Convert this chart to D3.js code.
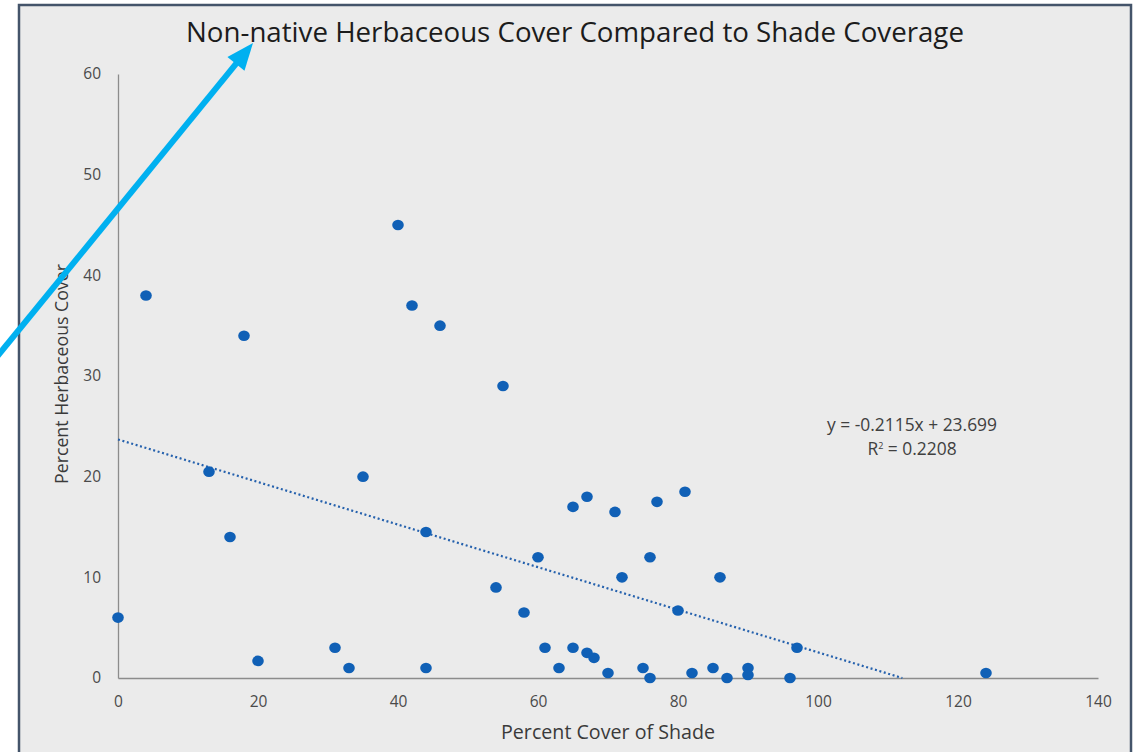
<!DOCTYPE html>
<html>
<head>
<meta charset="utf-8">
<script src="https://cdn.jsdelivr.net/npm/d3@7"></script>
<style>
  html, body { margin: 0; padding: 0; background: #ffffff; }
  svg { display: block; }
  text { font-family: "Open Sans", "Noto Sans", sans-serif; }
</style>
</head>
<body>
<svg id="chart" width="1135" height="752"></svg>
<script>
// Shade cover (%) at each plot
const shadeCover = [
  0, 4, 13, 16, 18, 20, 31, 33, 35, 40, 42, 44, 44, 46, 54, 55, 58, 60, 61, 63,
  65, 65, 67, 67, 68, 70, 71, 72, 75, 76, 76, 77, 80, 81, 82, 85, 86, 87, 90, 90,
  96, 97, 124
];
// Non-native herbaceous cover (%) at the same plots
const herbCover = [
  6, 38, 20.5, 14, 34, 1.7, 3, 1, 20, 45, 37, 14.5, 1, 35, 9, 29, 6.5, 12, 3, 1,
  17, 3, 18, 2.5, 2, 0.5, 16.5, 10, 1, 12, 0, 17.5, 6.7, 18.5, 0.5, 1, 10, 0, 1, 0.3,
  0, 3, 0.5
];
const xTicks = [0, 20, 40, 60, 80, 100, 120, 140];
const yTicks = [0, 10, 20, 30, 40, 50, 60];
// Linear trend fit
const trendSlope = -0.2115;
const trendIntercept = 23.699;
const rSquared = 0.2208;

const svg = d3.select("#chart");

// scale a text element's font so it spans the given width
function fitWidth(sel, baseSize, width) {
  const w = sel.node().getComputedTextLength();
  sel.style("font-size", (baseSize * width / w).toFixed(2) + "px");
}

// chart panel with frame
svg.append("rect")
  .attr("x", 19).attr("y", 5).attr("width", 1112).attr("height", 760)
  .attr("fill", "#ebebeb")
  .attr("stroke", "#44546a").attr("stroke-width", 2.5);

const x = d3.scaleLinear().domain([0, 140]).range([118, 1098]);
const y = d3.scaleLinear().domain([0, 60]).range([678, 74]);

// axes
const xAxis = svg.append("g")
  .attr("transform", `translate(0,${y(0)})`)
  .call(d3.axisBottom(x).tickValues(xTicks).tickSize(0).tickPadding(18));
const yAxis = svg.append("g")
  .attr("transform", `translate(${x(0)},0)`)
  .call(d3.axisLeft(y).tickValues(yTicks).tickSize(0).tickPadding(17));

[xAxis, yAxis].forEach(g => {
  g.select(".domain").attr("stroke", "#8c8c8c").attr("stroke-width", 1.3);
  g.selectAll("text")
    .attr("fill", "#4a4a4a")
    .style("font-family", "\"Open Sans\", sans-serif")
    .style("font-size", "15.5px");
});

// trend line
const xEnd = -trendIntercept / trendSlope;
svg.append("line")
  .attr("x1", x(0)).attr("y1", y(trendIntercept))
  .attr("x2", x(xEnd)).attr("y2", y(0))
  .attr("stroke", "#2561ad")
  .attr("stroke-width", 2.2)
  .attr("stroke-dasharray", "2 2.6");

// points
svg.append("g").selectAll("ellipse")
  .data(shadeCover.map((s, i) => [s, herbCover[i]]))
  .join("ellipse")
  .attr("cx", d => x(d[0]))
  .attr("cy", d => y(d[1]))
  .attr("rx", 5.8).attr("ry", 5.3)
  .attr("fill", "#1060b6");

// trend equation
const eq1 = svg.append("text")
  .attr("x", 912).attr("y", 431)
  .attr("text-anchor", "middle")
  .attr("fill", "#404040")
  .style("font-size", "15px")
  .text(`y = ${trendSlope}x + ${trendIntercept}`);
fitWidth(eq1, 15, 170);
const eqSize = eq1.style("font-size");

const eq2 = svg.append("text")
  .attr("x", 912).attr("y", 455)
  .attr("text-anchor", "middle")
  .attr("fill", "#404040")
  .style("font-size", eqSize);
eq2.append("tspan").text("R");
eq2.append("tspan").attr("dy", -6).style("font-size", "9px").text("2");
eq2.append("tspan").attr("dy", 6).text(` = ${rSquared}`);

// title
const title = svg.append("text")
  .attr("x", 575).attr("y", 42)
  .attr("text-anchor", "middle")
  .attr("fill", "#1c1c1c")
  .style("font-size", "24px")
  .text("Non-native Herbaceous Cover Compared to Shade Coverage");
fitWidth(title, 24, 778);

// axis titles
const xTitle = svg.append("text")
  .attr("x", 608).attr("y", 739)
  .attr("text-anchor", "middle")
  .attr("fill", "#3a3a3a")
  .style("font-size", "16px")
  .text("Percent Cover of Shade");
fitWidth(xTitle, 16, 214);

const yTitle = svg.append("text")
  .attr("transform", "translate(68,374) rotate(-90)")
  .attr("text-anchor", "middle")
  .attr("fill", "#3a3a3a")
  .style("font-size", "16px")
  .text("Percent Herbaceous Cover");
fitWidth(yTitle, 16, 220);

// callout arrow pointing at the title
const tail = [-4, 358], tip = [253, 43];
const ang = Math.atan2(tip[1] - tail[1], tip[0] - tail[0]);
const headLen = 27, headHalf = 11;
const base = [tip[0] - headLen * Math.cos(ang), tip[1] - headLen * Math.sin(ang)];
const nx = -Math.sin(ang), ny = Math.cos(ang);

svg.append("line")
  .attr("x1", tail[0]).attr("y1", tail[1])
  .attr("x2", base[0] + 2 * Math.cos(ang)).attr("y2", base[1] + 2 * Math.sin(ang))
  .attr("stroke", "#00b0f0")
  .attr("stroke-width", 6);
svg.append("path")
  .attr("d", d3.line()([
    tip,
    [base[0] + nx * headHalf, base[1] + ny * headHalf],
    [base[0] - nx * headHalf, base[1] - ny * headHalf]
  ]) + "Z")
  .attr("fill", "#00b0f0");
</script>
</body>
</html>
